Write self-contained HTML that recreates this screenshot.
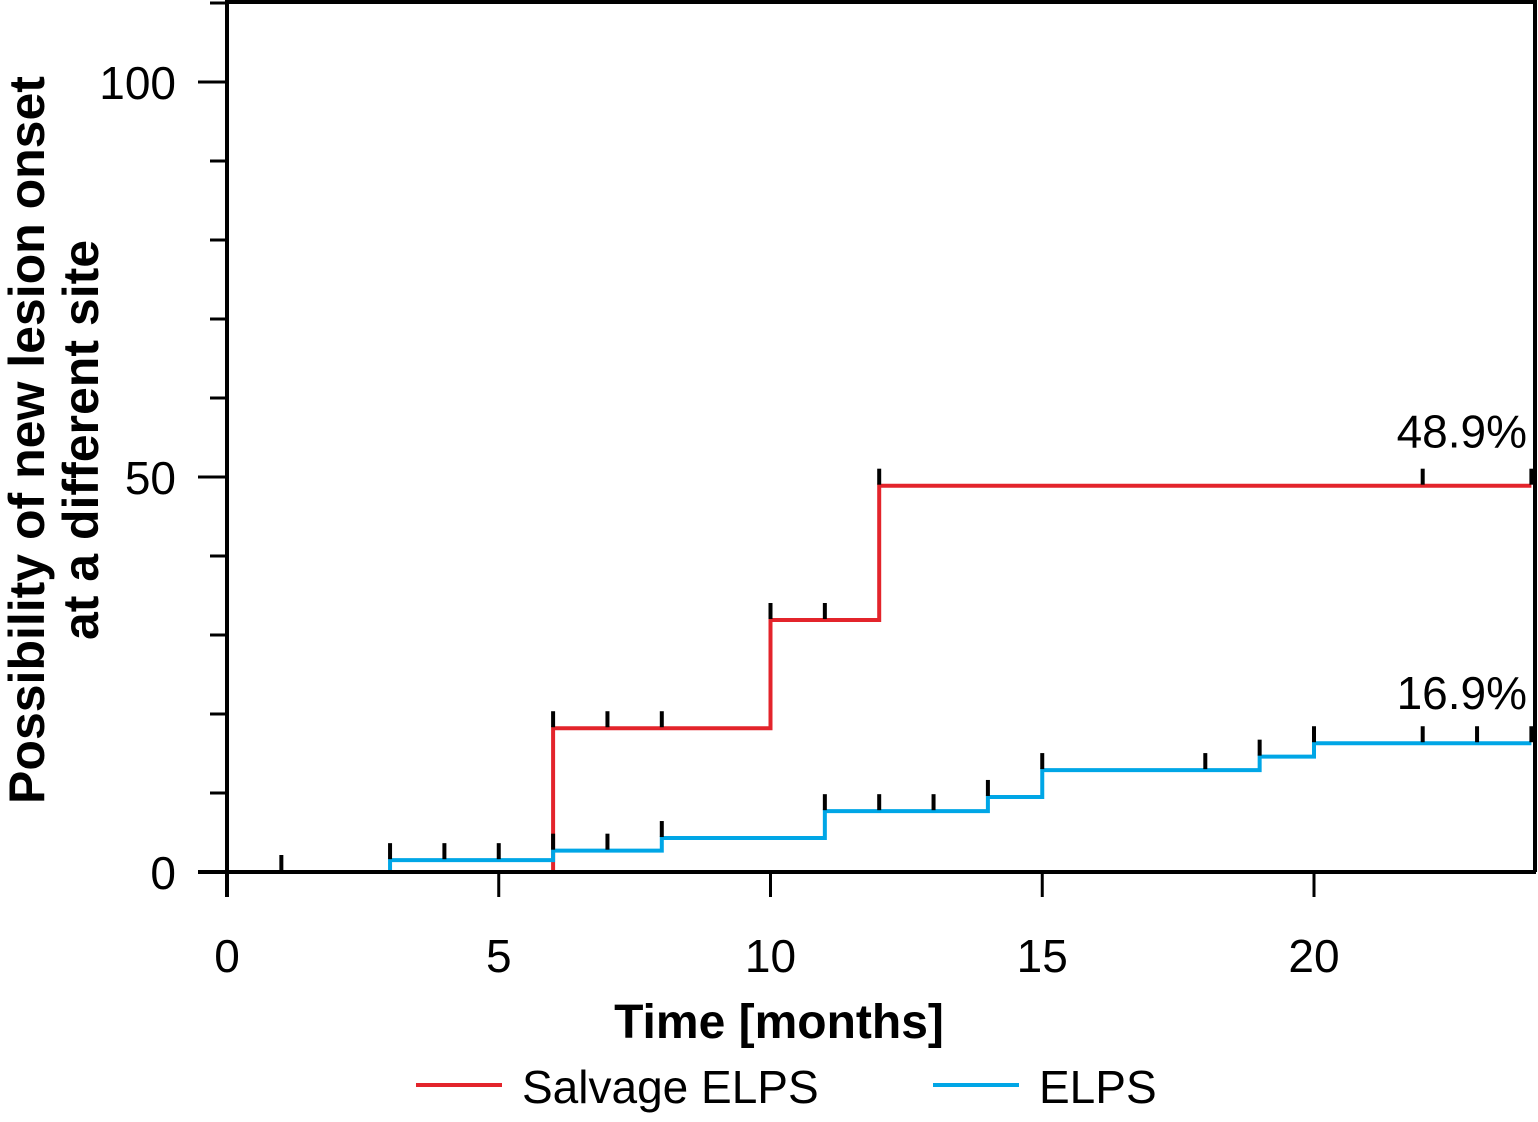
<!DOCTYPE html>
<html><head><meta charset="utf-8"><style>
body{margin:0;background:#fff}
svg text{font-family:"Liberation Sans",sans-serif}
</style></head><body>
<svg id="c" width="1538" height="1117" viewBox="0 0 1538 1117" xmlns="http://www.w3.org/2000/svg"></svg>
<script>
const xTicks=[0,5,10,15,20];
const yMajor=[0,50,100];
const yMinor=[10,20,30,40,60,70,80,90,110];
const redTimes=[6,10,12,24];
const redValues=[18.2,31.9,48.9,48.9];
const redCensor=[6,7,8,10,11,12,22,24];
const blueTimes=[3,6,8,11,14,15,19,20,24];
const blueValues=[1.5,2.7,4.3,7.7,9.5,12.9,14.6,16.3,16.3];
const blueCensor=[3,4,5,6,7,8,11,12,13,14,15,18,19,20,22,23,24];
const zeroCensor=[1];
const NS="http://www.w3.org/2000/svg";
const svg=document.getElementById('c');
const X=t=>227+t*54.35;
const Y=v=>872-v*7.9;
function mk(tag,a,parent){const e=document.createElementNS(NS,tag);for(const k in a)e.setAttribute(k,a[k]);(parent||svg).appendChild(e);return e;}
function stepVal(times,vals,t){let v=0;for(let i=0;i<times.length;i++)if(times[i]<=t)v=vals[i];return v;}
let e=mk('path',{d:`M227 2 H1535 V872`,fill:'none',stroke:'#000','stroke-width':4});

e=mk('line',{x1:227,y1:0,x2:227,y2:897,stroke:'#000','stroke-width':4});

xTicks.forEach(t=>{
 let l=mk('line',{x1:X(t),y1:872,x2:X(t),y2:897,stroke:'#000','stroke-width':3});
 
 let tx=mk('text',{x:X(t),y:972,'font-size':46,'text-anchor':'middle'});tx.textContent=t;
 
});
yMajor.forEach(v=>{
 let l=mk('line',{x1:198,y1:Y(v),x2:227,y2:Y(v),stroke:'#000','stroke-width':3});
 
 let tx=mk('text',{x:176,y:Y(v)+17,'font-size':46,'text-anchor':'end'});tx.textContent=v;
 
});
yMinor.forEach(v=>{
 let l=mk('line',{x1:210,y1:Y(v),x2:227,y2:Y(v),stroke:'#000','stroke-width':3});
 
});
function stepPath(times,vals){let d=`M${X(times[0])} ${Y(0)} V${Y(vals[0])}`;for(let i=1;i<times.length;i++){d+=` H${X(times[i])} V${Y(vals[i])}`;}return d;}
e=mk('path',{d:stepPath(redTimes,redValues),fill:'none',stroke:'#e3242b','stroke-width':4});

e=mk('path',{d:stepPath(blueTimes,blueValues),fill:'none',stroke:'#00a6e6','stroke-width':4});

e=mk('line',{x1:198,y1:872,x2:1536,y2:872,stroke:'#000','stroke-width':4});

function censor(list,times,vals,name){list.forEach(t=>{const v=times?stepVal(times,vals,t):0;const y=Y(v);
 let l=mk('line',{x1:X(t),y1:y-17,x2:X(t),y2:y-1,stroke:'#000','stroke-width':4});
 });}
censor(redCensor,redTimes,redValues,'salvage-censor-mark');
censor(blueCensor,blueTimes,blueValues,'elps-censor-mark');
censor(zeroCensor,null,null,'censor-mark');
e=mk('text',{x:1527,y:Y(48.9)-38,'font-size':46,'text-anchor':'end'});e.textContent='48.9%';

e=mk('text',{x:1527,y:Y(16.3)-34,'font-size':46,'text-anchor':'end'});e.textContent='16.9%';

e=mk('text',{x:779,y:1038,'font-size':48,'font-weight':'bold','text-anchor':'middle'});e.textContent='Time [months]';

const g=mk('g',{transform:'translate(44,440) rotate(-90)'});

let t1=mk('text',{x:0,y:0,'font-size':50,'font-weight':'bold','text-anchor':'middle'},g);t1.textContent='Possibility of new lesion onset';
let t2=mk('text',{x:0,y:54,'font-size':50,'font-weight':'bold','text-anchor':'middle'},g);t2.textContent='at a different site';
e=mk('line',{x1:416,y1:1085,x2:502,y2:1085,stroke:'#e3242b','stroke-width':4});

e=mk('text',{x:522,y:1103,'font-size':46});e.textContent='Salvage ELPS';

e=mk('line',{x1:933,y1:1085,x2:1019,y2:1085,stroke:'#00a6e6','stroke-width':4});

e=mk('text',{x:1039,y:1103,'font-size':46});e.textContent='ELPS';

</script>
</body></html>
